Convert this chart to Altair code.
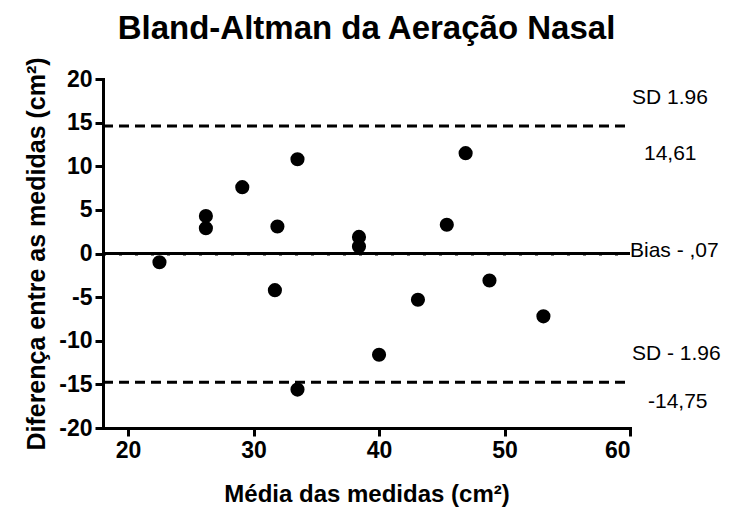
import altair as alt
import pandas as pd

# Data
media = [22.5, 26.2, 26.2, 29.1, 31.7, 31.9, 33.5, 33.5, 38.4, 38.4, 40.0, 43.1, 45.4, 46.9, 48.8, 53.1]
diferenca = [-1.0, 4.3, 2.9, 7.6, -4.2, 3.1, 10.8, -15.6, 1.9, 0.8, -11.6, -5.3, 3.3, 11.5, -3.1, -7.2]

limite_sup = 14.61
vies = -0.07
limite_inf = -14.75
x_min, x_max = 18, 60
x_ticks = [20, 30, 40, 50, 60]
y_ticks = [-20, -15, -10, -5, 0, 5, 10, 15, 20]

rotulo_sup = "SD 1.96"
valor_sup = "14,61"
rotulo_vies = "Bias - ,07"
rotulo_inf = "SD - 1.96"
valor_inf = "-14,75"

FONT = "Liberation Sans"

pts = pd.DataFrame({"media": media, "dif": diferenca})

xs = alt.Scale(domain=[x_min, x_max], nice=False, zero=False)
ys = alt.Scale(domain=[-20, 20], nice=False, zero=False)

base = alt.Chart(pts).mark_circle(size=200, color="black", opacity=1).encode(
    x=alt.X("media:Q", scale=xs,
            axis=alt.Axis(values=x_ticks, labelExpr="toString(datum.value)",
                          title="Média das medidas (cm²)", titlePadding=20)),
    y=alt.Y("dif:Q", scale=ys,
            axis=alt.Axis(values=y_ticks, labelExpr="toString(datum.value)",
                          title="Diferença entre as medidas (cm²)", titlePadding=9,
                          titleFontSize=25)),
)

lim = pd.DataFrame({"x0": [x_min, x_min], "x1": [x_max, x_max], "y": [limite_sup, limite_inf]})
dashed = alt.Chart(lim).mark_rule(color="black", strokeWidth=3, strokeDash=[10, 6]).encode(
    x=alt.X("x0:Q", scale=xs), x2="x1:Q", y=alt.Y("y:Q", scale=ys))

zero_df = pd.DataFrame({"x0": [x_min], "x1": [x_max], "y": [0]})
zero_line = alt.Chart(zero_df).mark_rule(color="black", strokeWidth=3).encode(
    x=alt.X("x0:Q", scale=xs), x2="x1:Q", y=alt.Y("y:Q", scale=ys))

bias_df = pd.DataFrame({"x0": [x_min], "x1": [x_max], "y": [vies]})
bias_line = alt.Chart(bias_df).mark_rule(color="black", strokeWidth=3, strokeDash=[3, 13]).encode(
    x=alt.X("x0:Q", scale=xs), x2="x1:Q", y=alt.Y("y:Q", scale=ys))


def label(txt, yval, dx, dy):
    df = pd.DataFrame({"x": [x_max], "y": [yval], "t": [txt]})
    return alt.Chart(df).mark_text(align="left", baseline="middle", font=FONT, fontSize=21,
                                   color="black", dx=dx, dy=dy, clip=False).encode(
        x=alt.X("x:Q", scale=xs), y=alt.Y("y:Q", scale=ys), text="t:N")


labels = (label(rotulo_sup, limite_sup, 2, -28) + label(valor_sup, limite_sup, 14, 28)
          + label(rotulo_vies, vies, 0, -3) + label(rotulo_inf, limite_inf, 2, -28)
          + label(valor_inf, limite_inf, 18, 20))

chart = alt.layer(dashed, zero_line, bias_line, base, labels).properties(
    width=527, height=349,
    autosize=alt.AutoSizeParams(type="none"),
    padding={"left": 95, "top": 71, "right": 101, "bottom": 96},
    title=alt.Title("Bland-Altman da Aeração Nasal", font=FONT, fontSize=33,
                    fontWeight="bold", color="black", anchor="middle", offset=11),
).configure_view(stroke=None).configure_axis(
    domainColor="black", domainWidth=3, tickColor="black", tickWidth=3, tickSize=8,
    grid=False, labelFont=FONT, labelFontSize=23, labelFontWeight="bold", labelColor="black",
    labelPadding=3, titleFont=FONT, titleFontSize=24, titleFontWeight="bold", titleColor="black",
    domainCap="square",
)

chart.save("out.html", embed_options={"renderer": "svg", "actions": False})
